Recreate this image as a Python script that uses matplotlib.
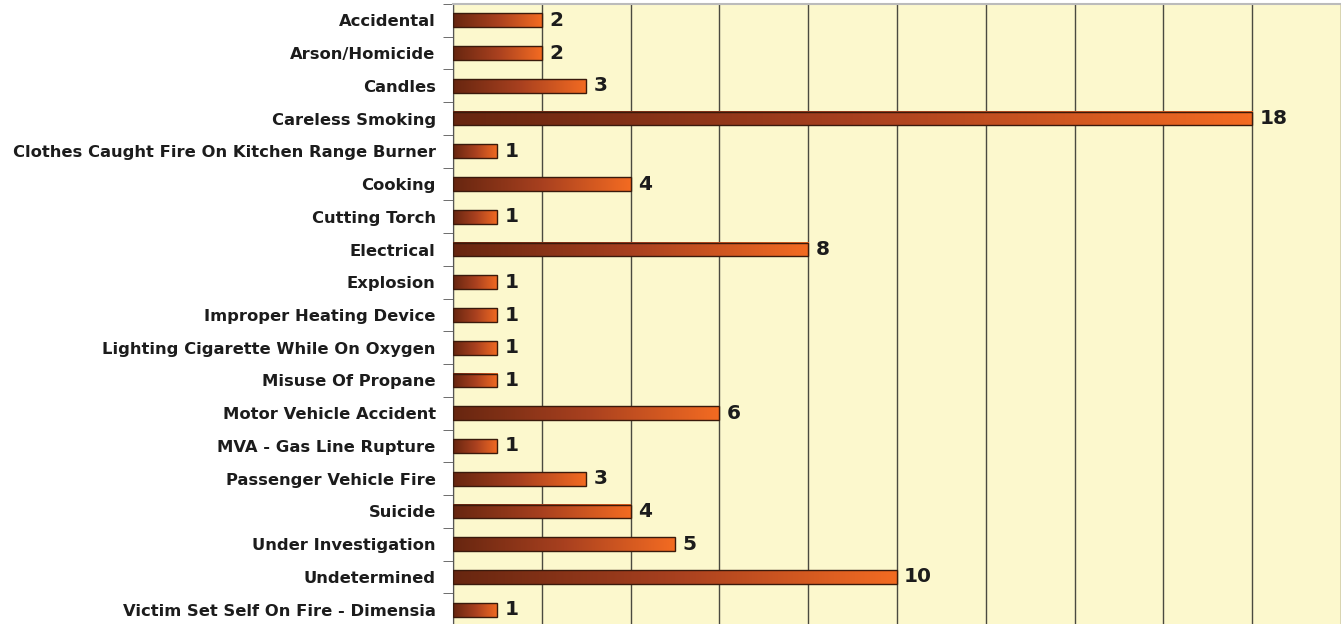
import numpy as np
import matplotlib.pyplot as plt
from matplotlib.patches import Rectangle
from matplotlib.colors import LinearSegmentedColormap

causes = ['Accidental', 'Arson/Homicide', 'Candles', 'Careless Smoking',
          'Clothes Caught Fire On Kitchen Range Burner', 'Cooking', 'Cutting Torch',
          'Electrical', 'Explosion', 'Improper Heating Device',
          'Lighting Cigarette While On Oxygen', 'Misuse Of Propane',
          'Motor Vehicle Accident', 'MVA - Gas Line Rupture', 'Passenger Vehicle Fire',
          'Suicide', 'Under Investigation', 'Undetermined',
          'Victim Set Self On Fire - Dimensia']
deaths = [2, 2, 3, 18, 1, 4, 1, 8, 1, 1, 1, 1, 6, 1, 3, 4, 5, 10, 1]

plt.rcParams['font.family'] = ['DejaVu Sans']

fig = plt.figure(figsize=(13.41, 6.24), dpi=100)
ax = fig.add_axes([453 / 1341, -2 / 624, 888 / 1341, 622 / 624])
ax.set_facecolor('#fcf8cd')

# each bar gets its own dark-brown -> orange gradient
cmap = LinearSegmentedColormap.from_list('fire', ['#672610', '#a8401f', '#f36b22'])
grad = np.linspace(0, 1, 256).reshape(1, -1)
h = 0.42
ypos = np.arange(len(causes))
for y, v in zip(ypos, deaths):
    ax.imshow(grad, cmap=cmap, extent=(0, v, y + h / 2, y - h / 2),
              aspect='auto', zorder=3, interpolation='bilinear')
    ax.add_patch(Rectangle((0, y - h / 2), v, h, fill=False,
                           edgecolor='#3a1a0c', linewidth=1.0, zorder=4))
    ax.text(v + 0.16, y, str(v), va='center', ha='left', fontsize=14.5,
            fontweight='bold', color='#1c1c1c', zorder=5)

ax.set_xlim(0, 20)
ax.set_ylim(len(causes) - 0.5, -0.5)
ax.set_xticks(np.arange(0, 21, 2))
ax.tick_params(axis='x', length=0, labelbottom=False)
ax.grid(axis='x', color='#4a4a40', linewidth=1.0, zorder=1)

ax.set_yticks(ypos)
ax.set_yticklabels(causes, fontsize=11.8, fontweight='bold', color='#1c1c1c')
ax.tick_params(axis='y', length=0, pad=12.5)
ax.set_yticks(np.arange(-0.5, len(causes), 1), minor=True)
ax.tick_params(axis='y', which='minor', length=7, color='#555555', direction='out')

for s in ['right', 'bottom']:
    ax.spines[s].set_visible(False)
ax.spines['top'].set_color('#bbbbbb')
ax.spines['top'].set_linewidth(1.5)
ax.spines['left'].set_color('#555555')

fig.savefig('out.png', dpi=100)
